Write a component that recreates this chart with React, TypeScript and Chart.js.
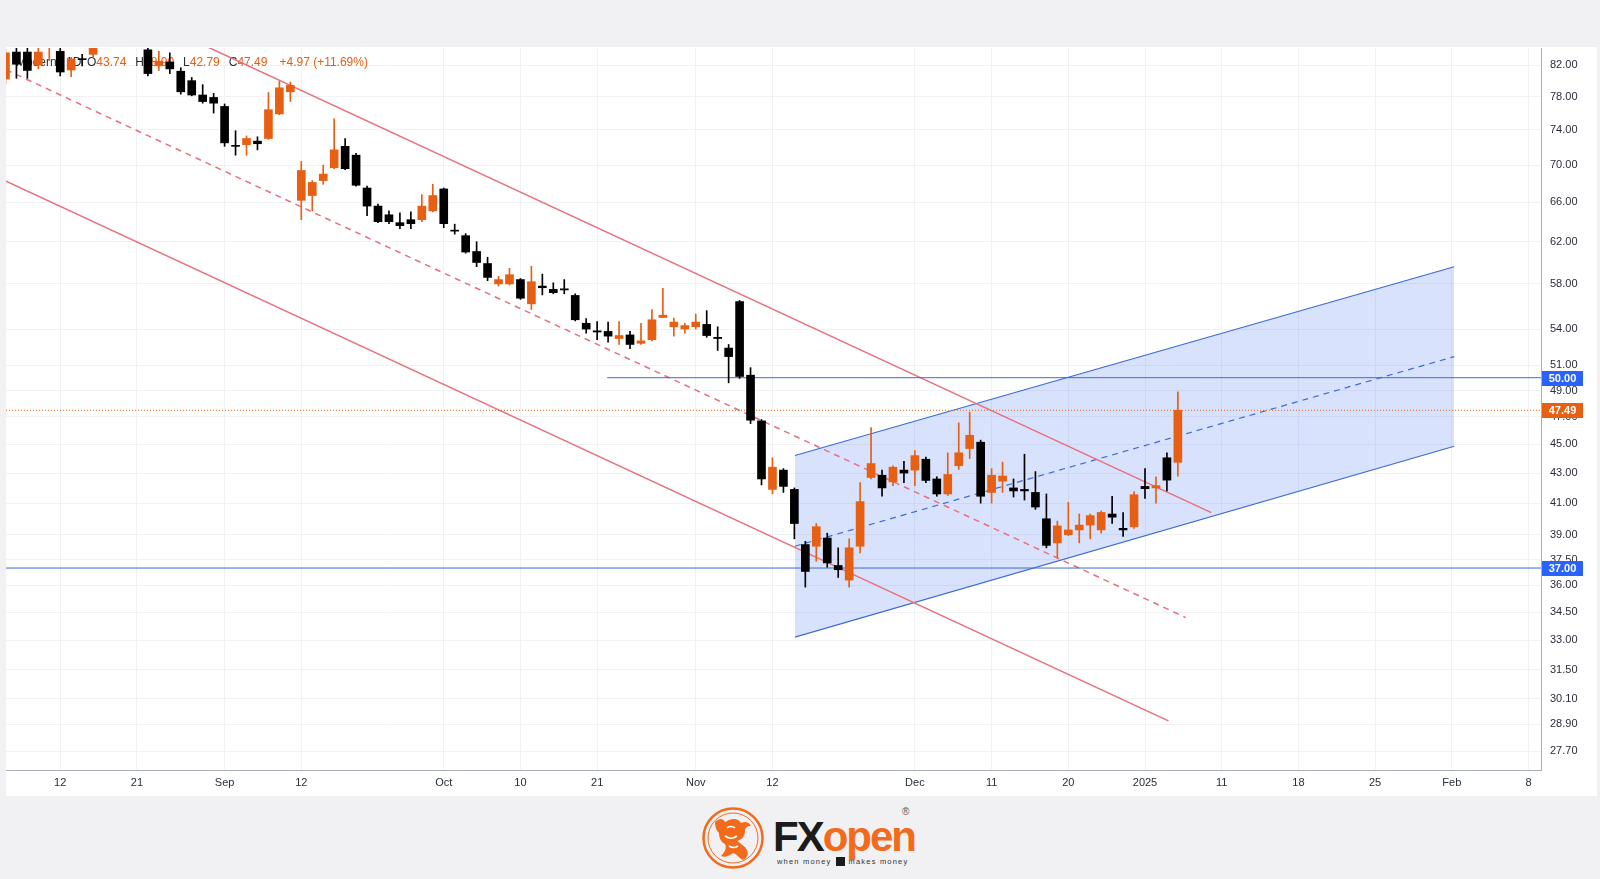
import React, { useEffect, useRef } from "react";
import { Chart, registerables } from "chart.js";

Chart.register(...registerables);

// ---- Daily candles (index 0 = 5 Aug 2024 ... index 107 = 7 Jan 2025) ----
const opens = [
  80.2, 83.7, 83.7, 82.0, 84.5, 83.8, 81.35, 82.8, 83.4, 85.5,
  87.0, 86.0, 87.0, 84.0, 81.9, 82.4, 81.2, 80.0, 78.2, 77.9,
  76.8, 72.2, 72.3, 72.7, 73.0, 75.9, 78.6, 66.2, 66.7, 68.3,
  69.7, 72.1, 71.1, 67.5, 65.6, 64.7, 63.9, 64.2, 64.2, 65.1,
  67.4, 63.15, 62.6, 61.05, 59.9, 58.0, 58.0, 58.4, 56.2, 57.8,
  57.5, 57.55, 56.95, 54.5, 53.85, 53.8, 53.2, 53.5, 52.8, 53.1,
  55.0, 54.2, 54.0, 54.2, 54.4, 53.3, 52.4, 56.4, 50.2, 46.7,
  41.9, 43.2, 41.9, 38.4, 38.3, 38.8, 37.15, 36.3, 38.3, 42.7,
  42.85, 42.4, 43.2, 43.2, 43.95, 42.6, 41.6, 43.5, 44.7, 45.15,
  41.7, 42.45, 42.0, 41.9, 41.7, 40.0, 38.5, 39.0, 39.3, 39.6,
  39.3, 40.3, 39.4, 39.5, 42.1, 42.0, 44.05, 43.74,
];
const highs = [
  84.0, 84.6, 84.6, 85.0, 86.0, 84.6, 83.0, 83.4, 86.0, 88.0,
  89.0, 88.5, 88.0, 85.0, 83.8, 83.6, 81.65, 80.4, 79.5, 78.4,
  77.1, 73.9, 73.3, 73.2, 78.5, 79.9, 79.8, 70.4, 68.3, 70.0,
  75.3, 73.0, 71.3, 67.7, 65.8, 65.1, 64.9, 65.0, 66.8, 67.9,
  67.5, 63.75, 62.8, 62.0, 60.5, 58.7, 59.45, 58.5, 59.65, 58.9,
  58.1, 58.4, 57.1, 54.9, 54.65, 54.6, 54.65, 53.8, 54.5, 55.7,
  57.6, 54.95, 54.5, 55.3, 55.6, 54.2, 52.7, 56.5, 50.8, 46.8,
  44.05, 43.3, 42.0, 38.6, 39.7, 39.1, 38.2, 38.75, 42.35, 46.2,
  43.2, 43.5, 43.8, 44.55, 44.1, 42.75, 44.4, 46.55, 47.35, 45.3,
  43.3, 43.75, 42.6, 44.3, 43.1, 41.6, 39.85, 41.05, 40.3, 40.3,
  40.5, 41.45, 40.4, 41.75, 43.3, 42.75, 44.4, 48.9,
];
const lows = [
  79.6, 80.3, 80.3, 81.5, 82.6, 80.6, 80.5, 81.9, 83.0, 84.8,
  85.5, 85.0, 84.6, 80.6, 81.3, 80.9, 78.3, 78.1, 77.2, 76.0,
  72.1, 71.1, 71.1, 71.7, 72.9, 75.8, 77.4, 64.2, 65.1, 67.9,
  69.6, 69.5, 67.7, 64.6, 63.9, 63.8, 63.3, 63.3, 64.0, 65.0,
  63.4, 62.75, 60.9, 59.6, 58.3, 57.8, 57.9, 56.6, 55.7, 57.0,
  57.1, 57.1, 54.7, 53.65, 53.1, 52.9, 52.7, 52.35, 52.7, 53.0,
  55.0, 53.4, 53.65, 54.0, 53.3, 52.2, 49.6, 49.95, 46.5, 42.2,
  41.6, 41.7, 38.75, 35.9, 37.4, 37.05, 36.45, 35.9, 37.9, 42.6,
  41.45, 42.15, 42.35, 42.15, 42.35, 41.45, 41.5, 43.25, 44.0, 41.0,
  41.0, 41.7, 41.4, 41.2, 40.6, 38.2, 37.6, 38.95, 38.5, 38.75,
  39.1, 39.7, 38.9, 39.4, 41.3, 41.0, 41.8, 42.79,
];
const closes = [
  83.6, 82.1, 81.3, 83.7, 85.5, 81.1, 82.8, 82.7, 85.5, 87.0,
  86.0, 87.5, 85.0, 80.9, 82.5, 81.5, 78.6, 78.2, 77.4, 77.2,
  72.5, 72.1, 73.0, 72.4, 76.4, 79.1, 79.4, 69.4, 68.1, 69.0,
  71.7, 69.6, 67.8, 65.6, 64.0, 64.0, 63.6, 63.8, 65.6, 66.7,
  63.8, 63.05, 61.0, 60.0, 58.6, 58.4, 58.85, 56.7, 58.2, 57.65,
  57.2, 57.45, 54.8, 54.0, 53.75, 53.4, 53.45, 52.7, 53.0, 54.8,
  55.2, 54.6, 54.3, 54.6, 53.45, 53.2, 51.7, 50.1, 46.75, 42.6,
  43.4, 42.1, 39.7, 36.8, 39.5, 37.3, 36.9, 38.2, 41.1, 43.65,
  42.0, 43.4, 43.0, 44.2, 42.5, 41.6, 42.9, 44.4, 45.65, 41.45,
  42.85, 42.8, 41.8, 41.8, 40.75, 38.35, 39.55, 39.3, 39.6, 40.2,
  40.4, 40.1, 39.3, 41.55, 41.95, 42.15, 42.52, 47.49,
];

// ---- Time axis (trading-day index) ----
const xTickIdx = [5, 12, 20, 27, 40, 47, 54, 63, 70, 83, 90, 97, 104, 111, 118, 125, 132, 139];
const xTickText = ["12", "21", "Sep", "12", "Oct", "10", "21", "Nov", "12", "Dec", "11", "20", "2025", "11", "18", "25", "Feb", "8"];

// ---- Price axis ticks ----
const yTickValues = [27.7, 28.9, 30.1, 31.5, 33, 34.5, 36, 37.5, 39, 41, 43, 45, 47, 49, 51, 54, 58, 62, 66, 70, 74, 78, 82];

// ---- Drawings (trading-day index, price) ----
const redUpper = [{ x: 18.5, y: 84.34 }, { x: 110.05, y: 40.39 }];
const redMiddle = [{ x: 0.05, y: 81.39 }, { x: 107.72, y: 34.21 }];
const redLower = [{ x: 0.05, y: 68.23 }, { x: 106.14, y: 29.05 }];
const blueUpper = [{ x: 72.05, y: 44.21 }, { x: 132.22, y: 59.6 }];
const blueMiddle = [{ x: 72.05, y: 38.3 }, { x: 132.22, y: 51.7 }];
const blueLower = [{ x: 72.05, y: 33.17 }, { x: 132.22, y: 44.86 }];
const level50 = [{ x: 54.91, y: 50 }, { x: 140.14, y: 50 }];
const level37 = [{ x: 0.05, y: 37 }, { x: 140.14, y: 37 }];
const lastPriceLine = [{ x: 0.05, y: 47.49 }, { x: 140.14, y: 47.49 }];
const priceMarkers = [50, 47.49, 37];

const X_MIN = 0.05;
const X_MAX = 140.14;
const Y_MIN = 26.88;
const Y_MAX = 84.24;

const ORANGE = "#e65f12";
const BLACK = "#000000";
const RED = "#e8707d";
const BLUE = "#3f6ad8";
const FONT = '"Liberation Sans", Arial, sans-serif';

function ChartPanel() {
  const ref = useRef<HTMLCanvasElement | null>(null);

  useEffect(() => {
    const canvas = ref.current;
    if (!canvas) return;
    const n = closes.length;
    const candleColors = closes.map((c, i) => (c >= opens[i] ? ORANGE : BLACK));

    const legendPlugin = {
      id: "legendText",
      beforeDatasetsDraw(chart: any) {
        const ctx = chart.ctx;
        const last = n - 1;
        const chg = closes[last] - closes[last - 1];
        const pct = (chg / closes[last - 1]) * 100;
        ctx.save();
        ctx.font = "12px " + FONT;
        ctx.textBaseline = "middle";
        const y = 16;
        const dark = "#2a2e39";
        ctx.fillStyle = dark;
        ctx.fillText("Moderna", 10, y);
        ctx.fillText("1D", 60, y);
        const groups: [string, number][] = [
          ["O", opens[last]],
          ["H", highs[last]],
          ["L", lows[last]],
          ["C", closes[last]],
        ];
        let x = 81;
        groups.forEach(([k, v]) => {
          ctx.fillStyle = dark;
          ctx.fillText(k, x, y);
          x += ctx.measureText(k).width;
          ctx.fillStyle = ORANGE;
          const t = v.toFixed(2);
          ctx.fillText(t, x, y);
          x += ctx.measureText(t).width + 9;
        });
        ctx.fillStyle = ORANGE;
        const ch = (chg >= 0 ? "+" : "") + chg.toFixed(2) + " (" + (pct >= 0 ? "+" : "") + pct.toFixed(2) + "%)";
        ctx.fillText(ch, x + 3, y);
        ctx.restore();
      },
    };

    const markerPlugin = {
      id: "priceMarkers",
      afterDraw(chart: any) {
        const ctx = chart.ctx;
        const ys = chart.scales.y;
        const right = chart.chartArea.right;
        ctx.save();
        ctx.font = "bold 11px " + FONT;
        ctx.textAlign = "center";
        ctx.textBaseline = "middle";
        priceMarkers.forEach((v) => {
          const py = ys.getPixelForValue(v);
          const col = v === closes[n - 1] ? ORANGE : "#2962ff";
          ctx.fillStyle = col;
          ctx.fillRect(right + 1, Math.round(py) - 7, 41, 15);
          ctx.fillStyle = "#ffffff";
          ctx.fillText(v.toFixed(2), right + 21.5, Math.round(py) + 0.5);
        });
        ctx.restore();
      },
    };

    const lineDs = (data: any[], color: string, width: number, dash: number[], order: number, extra: any = {}) => ({
      type: "line" as const,
      data,
      borderColor: color,
      borderWidth: width,
      borderDash: dash,
      pointRadius: 0,
      tension: 0,
      fill: false,
      order,
      ...extra,
    });

    const chart = new Chart(canvas, {
      type: "bar",
      data: {
        datasets: [
          lineDs(blueUpper, BLUE, 1.2, [], 20, { fill: "+1", backgroundColor: "rgba(66, 110, 240, 0.2)" }),
          lineDs(blueLower, BLUE, 1.2, [], 19),
          lineDs(blueMiddle, BLUE, 1.2, [6, 5], 18),
          lineDs(redUpper, RED, 1.5, [], 17),
          lineDs(redMiddle, RED, 1.5, [6, 5], 16),
          lineDs(redLower, RED, 1.5, [], 15),
          lineDs(level50, BLUE, 1, [], 14),
          lineDs(level37, BLUE, 1, [], 13),
          lineDs(lastPriceLine, ORANGE, 1, [1, 2], 12),
          {
            type: "bar" as const,
            data: lows.map((l, i) => ({ x: i, y: [l, highs[i]] })),
            backgroundColor: candleColors,
            barThickness: 1,
            grouped: false,
            order: 2,
          },
          {
            type: "bar" as const,
            data: opens.map((o, i) => ({ x: i, y: [o, closes[i]] })),
            backgroundColor: candleColors,
            barThickness: 8,
            minBarLength: 1,
            grouped: false,
            order: 1,
          },
        ] as any,
      },
      options: {
        animation: false,
        responsive: false,
        maintainAspectRatio: false,
        layout: { padding: { top: 1, left: 0, right: 0, bottom: 0 } },
        plugins: { legend: { display: false }, tooltip: { enabled: false } },
        scales: {
          x: {
            type: "linear",
            min: X_MIN,
            max: X_MAX,
            offset: false,
            grid: { color: "#f0f2f6", drawTicks: false, offset: false },
            border: { display: true, color: "#a9adb5" },
            ticks: {
              autoSkip: false,
              maxRotation: 0,
              padding: 6,
              color: "#2a2e39",
              font: { family: FONT, size: 11 },
              callback: (_v: any, i: number) => xTickText[i] ?? "",
            },
            afterBuildTicks: (s: any) => {
              s.ticks = xTickIdx.map((v) => ({ value: v }));
            },
            afterFit: (s: any) => {
              s.height = 26;
              s.paddingLeft = 0;
              s.paddingRight = 0;
            },
          },
          y: {
            type: "logarithmic",
            position: "right",
            min: Y_MIN,
            max: Y_MAX,
            grid: { color: "#f0f2f6", drawTicks: false },
            border: { display: true, color: "#a9adb5" },
            ticks: {
              autoSkip: false,
              padding: 9,
              color: "#2a2e39",
              font: { family: FONT, size: 11 },
              callback: (v: any) => Number(v).toFixed(2),
            },
            afterBuildTicks: (s: any) => {
              s.ticks = yTickValues.map((v) => ({ value: v }));
            },
            afterFit: (s: any) => {
              s.width = 56;
              s.paddingTop = 0;
              s.paddingBottom = 0;
            },
          },
        },
      } as any,
      plugins: [legendPlugin, markerPlugin],
    });
    return () => chart.destroy();
  }, []);

  return <canvas ref={ref} width={1591} height={749} style={{ display: "block", width: 1591, height: 749 }} />;
}

function Logo() {
  return (
    <>
      <div style={{ position: "absolute", left: 701, top: 806, width: 64, height: 64 }}>
        <svg width="64" height="64" viewBox="0 0 64 64">
          <circle cx="32" cy="32" r="29.5" fill="none" stroke="#f26b1d" strokeWidth="2.5" />
          <circle cx="32" cy="32" r="25" fill="none" stroke="#f26b1d" strokeWidth="1" />
          <path d="M14 16 C18 12 22 12 24 16 L28 14 C33 12 38 13 40 17 C44 15 48 16 50 20 C46 20 44 22 44 25 C44 31 40 34 36 35 C40 38 44 40 46 44 C48 48 46 52 42 54 C38 52 36 48 32 47 C28 50 24 52 20 50 C24 46 26 42 24 38 C20 36 18 32 18 27 C16 25 14 22 14 16 Z" fill="#f26b1d" />
          <path d="M26 22 C28 20 32 20 34 22 M24 30 C28 33 32 33 36 30 M28 40 C31 42 34 42 37 40" stroke="#ffffff" strokeWidth="1.6" fill="none" />
        </svg>
      </div>
      <div
        style={{
          position: "absolute",
          left: 773,
          top: 816,
          fontFamily: FONT,
          fontWeight: 700,
          fontSize: 42,
          lineHeight: "42px",
          letterSpacing: -2,
          whiteSpace: "nowrap",
        }}
      >
        <span style={{ color: "#1b1b1b" }}>FX</span>
        <span style={{ color: "#f26b1d" }}>open</span>
      </div>
      <div style={{ position: "absolute", left: 902, top: 806, fontFamily: FONT, fontSize: 10, color: "#555" }}>®</div>
      <div
        style={{
          position: "absolute",
          left: 777,
          top: 857,
          fontFamily: FONT,
          fontSize: 7.5,
          letterSpacing: 1.2,
          color: "#333",
          whiteSpace: "nowrap",
          display: "flex",
          alignItems: "center",
          gap: 4,
        }}
      >
        <span>when money</span>
        <span style={{ display: "inline-block", width: 9, height: 9, background: "#1b1b1b" }} />
        <span>makes money</span>
      </div>
    </>
  );
}

export default function App() {
  return (
    <div style={{ position: "absolute", left: 0, top: 0, width: 1600, height: 879, background: "#f1f1f3", overflow: "hidden" }}>
      <div
        style={{
          position: "absolute",
          left: 6,
          top: 47,
          width: 1591,
          height: 749,
          background: "#ffffff",
        }}
      >
        <ChartPanel />
      </div>
      <Logo />
    </div>
  );
}
